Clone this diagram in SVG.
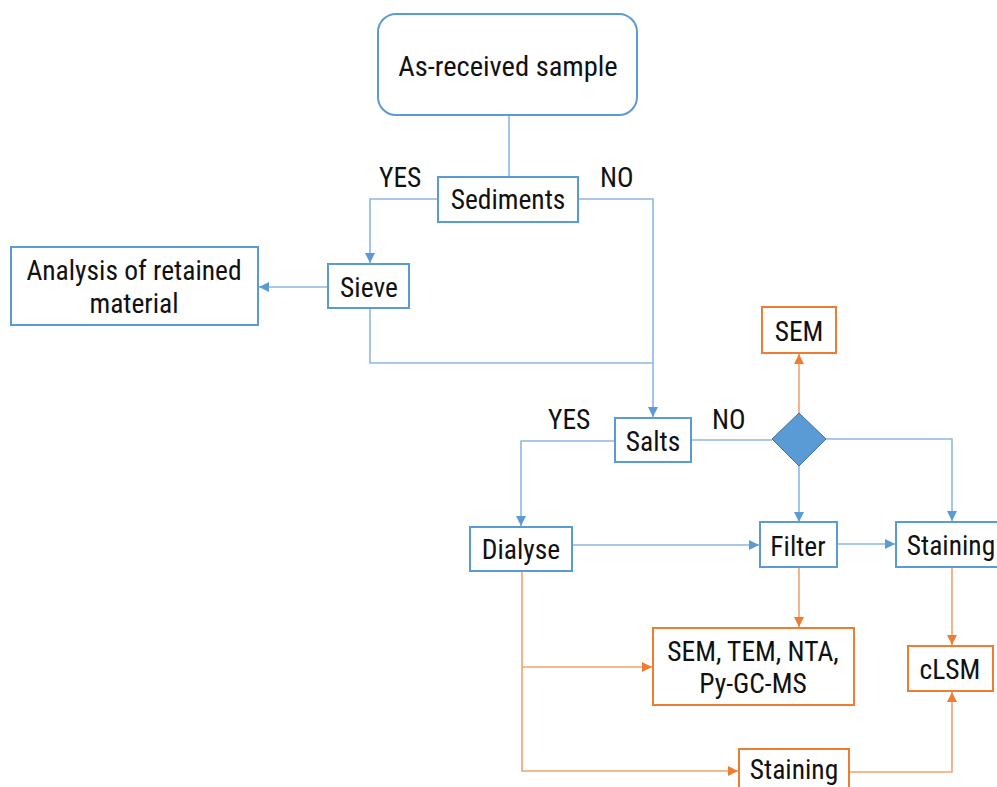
<svg xmlns="http://www.w3.org/2000/svg" width="997" height="787" viewBox="0 0 997 787">
<style>
text{font-family:"Liberation Sans Narrow","Roboto Condensed","DejaVu Sans Condensed","Liberation Sans",sans-serif;font-size:27.5px;fill:#111;text-anchor:middle}
.b{fill:#fff;stroke:#5B9BD5;stroke-width:2}
.o{fill:#fff;stroke:#ED7D31;stroke-width:2}
.cb{fill:none;stroke:#8DB7E4;stroke-width:1.6}
.co{fill:none;stroke:#F2A26C;stroke-width:1.6}
.lbl{text-anchor:start}
</style>
<defs>
<marker id="ab" viewBox="0 0 10 10" refX="10" refY="5" markerWidth="10" markerHeight="10" markerUnits="userSpaceOnUse" orient="auto"><path d="M0,0 L10,5 L0,10 Z" fill="#5B9BD5"/></marker>
<marker id="ao" viewBox="0 0 10 10" refX="10" refY="5" markerWidth="10" markerHeight="10" markerUnits="userSpaceOnUse" orient="auto"><path d="M0,0 L10,5 L0,10 Z" fill="#ED7D31"/></marker>
</defs>
<g id="connectors">
<path class="cb" d="M509,115 V177"/>
<path class="cb" d="M438,199 H370 V263" marker-end="url(#ab)"/>
<path class="cb" d="M578,199 H653 V417" marker-end="url(#ab)"/>
<path class="cb" d="M328,287 L259,287" marker-end="url(#ab)"/>
<path class="cb" d="M370,308 V363 H653"/>
<path class="cb" d="M615,441 H521 V526" marker-end="url(#ab)"/>
<path class="cb" d="M691,440 H772"/>
<path class="cb" d="M826,439 H952 V521" marker-end="url(#ab)"/>
<path class="cb" d="M799,466 V522" marker-end="url(#ab)"/>
<path class="cb" d="M572,545 H759" marker-end="url(#ab)"/>
<path class="cb" d="M837,544 H895" marker-end="url(#ab)"/>
<path class="co" d="M799,413 V354" marker-end="url(#ao)"/>
<path class="co" d="M799,567 V627" marker-end="url(#ao)"/>
<path class="co" d="M522,571 V771 H738" marker-end="url(#ao)"/>
<path class="co" d="M522,667 H652" marker-end="url(#ao)"/>
<path class="co" d="M952,567 V645" marker-end="url(#ao)"/>
<path class="co" d="M849,772 H952 V692" marker-end="url(#ao)"/>
</g>
<g id="as-received">
<rect class="b" x="378" y="14" width="259" height="101" rx="18"/>
<text x="508" y="76" style="font-size:28.5px">As-received sample</text>
</g>
<g id="sediments">
<rect class="b" x="438" y="177" width="140" height="45"/>
<text x="508" y="209">Sediments</text>
</g>
<g id="labels">
<text class="lbl" x="379" y="187">YES</text>
<text class="lbl" x="600" y="187">NO</text>
<text class="lbl" x="548" y="429">YES</text>
<text class="lbl" x="712" y="429">NO</text>
</g>
<g id="sieve">
<rect class="b" x="328" y="264" width="81" height="44"/>
<text x="369" y="297">Sieve</text>
</g>
<g id="analysis">
<rect class="b" x="11" y="247" width="247" height="78"/>
<text x="134" y="280">Analysis of retained</text>
<text x="134" y="313">material</text>
</g>
<g id="salts">
<rect class="b" x="615" y="418" width="76" height="44"/>
<text x="653" y="451">Salts</text>
</g>
<g id="decision">
<path d="M799,413 L826,439 L799,466 L772,439 Z" fill="#5B9BD5" stroke="#41719C" stroke-width="1"/>
</g>
<g id="sem-top">
<rect class="o" x="762" y="307" width="74" height="46"/>
<text x="799" y="341">SEM</text>
</g>
<g id="dialyse">
<rect class="b" x="470" y="527" width="102" height="44"/>
<text x="521" y="559">Dialyse</text>
</g>
<g id="filter">
<rect class="b" x="760" y="522" width="77" height="45"/>
<text x="798" y="556">Filter</text>
</g>
<g id="staining-top">
<rect class="b" x="896" y="522" width="115" height="45"/>
<text x="951" y="555">Staining</text>
</g>
<g id="sem-tem">
<rect class="o" x="653" y="628" width="201" height="77"/>
<text x="753" y="661">SEM, TEM, NTA,</text>
<text x="753" y="693">Py-GC-MS</text>
</g>
<g id="clsm">
<rect class="o" x="908" y="646" width="85" height="45"/>
<text x="950" y="679">cLSM</text>
</g>
<g id="staining-bottom">
<rect class="o" x="739" y="749" width="110" height="50"/>
<text x="794" y="779">Staining</text>
</g>
</svg>
